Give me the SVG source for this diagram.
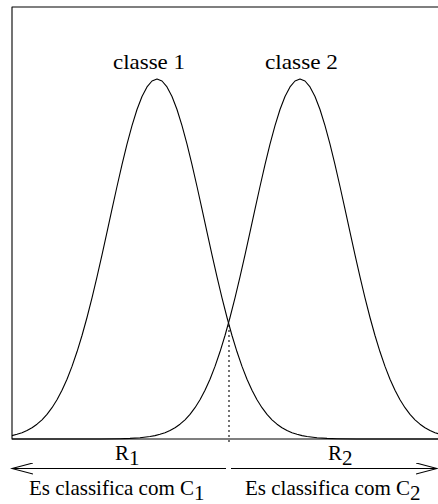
<svg xmlns="http://www.w3.org/2000/svg" width="438" height="504" viewBox="0 0 438 504">
<style>
.ln{fill:none;stroke:#000;stroke-width:1.1;stroke-linejoin:round}
.t{font-family:"Liberation Serif","Times New Roman",serif;font-size:21px;fill:#000}
</style>
<defs>
<marker id="open" viewBox="0 -6 23 12" refX="21" refY="0" markerWidth="23" markerHeight="12" markerUnits="userSpaceOnUse" orient="auto">
<path d="M0,-5.5 L21,0 L0,5.5" fill="none" stroke="#000" stroke-width="1.1"/>
</marker>
</defs>
<rect width="438" height="504" fill="#fff"/>
<g id="frame">
<path class="ln" d="M440,7 H12 V439 H440"/>
</g>
<g id="curve1">
<polyline class="ln" points="12,435.6 17,434.3 22,432.7 27,430.5 32,427.7 37,424.2 42,419.8 47,414.4 52,407.7 57,399.8 62,390.3 67,379.2 72,366.4 77,351.8 82,335.5 87,317.5 92,297.9 97,276.9 102,254.9 107,232.1 112,209.2 117,186.5 122,164.6 127,144.1 132,125.6 137,109.5 142,96.5 147,86.9 152,81 157,79 162,81 167,86.9 172,96.5 177,109.5 182,125.6 187,144.1 192,164.6 197,186.5 202,209.2 207,232.1 212,254.9 217,276.9 222,297.9 227,317.5 232,335.5 237,351.8 242,366.4 247,379.2 252,390.3 257,399.8 262,407.7 267,414.4 272,419.8 277,424.2 282,427.7 287,430.5 292,432.7 297,434.3 302,435.6 307,436.5 317,437.8 327,438.4 337,438.7 357,439 438,439"/>
</g>
<g id="curve2">
<polyline class="ln" points="12,439 100,439 120,438.7 130,438.4 140,437.8 150,436.5 155,435.6 160,434.3 165,432.7 170,430.5 175,427.7 180,424.2 185,419.8 190,414.4 195,407.7 200,399.8 205,390.3 210,379.2 215,366.4 220,351.8 225,335.5 230,317.5 235,297.9 240,276.9 245,254.9 250,232.1 255,209.2 260,186.5 265,164.6 270,144.1 275,125.6 280,109.5 285,96.5 290,86.9 295,81 300,79 305,81 310,86.9 315,96.5 320,109.5 325,125.6 330,144.1 335,164.6 340,186.5 345,209.2 350,232.1 355,254.9 360,276.9 365,297.9 370,317.5 375,335.5 380,351.8 385,366.4 390,379.2 395,390.3 400,399.8 405,407.7 410,414.4 415,419.8 420,424.2 425,427.7 430,430.5 435,432.7 440,434.3"/>
</g>
<g id="labels">
<text class="t" x="113" y="69" textLength="72" lengthAdjust="spacingAndGlyphs">classe 1</text>
<text class="t" x="265" y="69" textLength="73" lengthAdjust="spacingAndGlyphs">classe 2</text>
<text class="t" x="115" y="460">R<tspan dy="5">1</tspan></text>
<text class="t" x="328" y="460">R<tspan dy="5">2</tspan></text>
<text class="t" x="29" y="495">Es classifica com C<tspan dy="5">1</tspan></text>
<text class="t" x="245" y="495">Es classifica com C<tspan dy="5">2</tspan></text>
</g>
<g id="connectors">
<path class="ln" d="M229,325 V444" stroke-dasharray="2,3"/>
<path class="ln" d="M226,468.5 H12" marker-end="url(#open)"/>
<path class="ln" d="M231,468.5 H437" marker-end="url(#open)"/>
</g>
</svg>
